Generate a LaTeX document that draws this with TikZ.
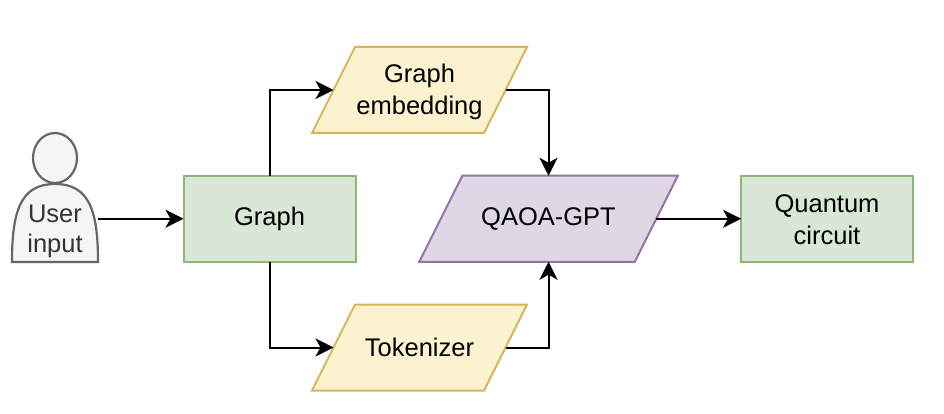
\documentclass[tikz,border=0pt]{standalone}
\usepackage{fontspec}
\setmainfont{Liberation Sans}
\usetikzlibrary{arrows.meta,calc,backgrounds}
\definecolor{gfill}{HTML}{D9E7D6}
\definecolor{gline}{HTML}{8DB873}
\definecolor{yfill}{HTML}{FDF2D0}
\definecolor{yline}{HTML}{D6B656}
\definecolor{pfill}{HTML}{DFD6E6}
\definecolor{pline}{HTML}{9673A6}
\definecolor{ufill}{HTML}{F5F5F5}
\definecolor{uline}{HTML}{666666}
\definecolor{utext}{HTML}{333333}
\tikzset{
  x=1pt,y=-1pt,
  label text/.style={font=\fontsize{25.5}{32}\selectfont,align=center,text=black,inner sep=0pt,outer sep=0pt},
  greenbox/.style={label text,draw=gline,fill=gfill,line width=2pt,minimum width=172pt,minimum height=86pt},
  parabox/.style={label text,minimum height=86pt},
  usertext/.style={label text,text=utext,minimum width=86pt,minimum height=65pt,font=\fontsize{25.5}{30}\selectfont},
  conn/.style={draw=black,line width=2pt,-{Stealth[length=18pt,width=18pt,inset=5pt]}},
  paraedge/.style={line width=2pt,line join=miter},
  actorline/.style={draw=uline,fill=ufill,line width=2.2pt}
}
\newcommand{\paraback}[3]{%
  \path[paraedge,draw=#2,fill=#3]
    ($(#1.north west)+(21.5,0)$) -- ($(#1.north east)+(21.5,0)$)
    -- ($(#1.south east)+(-21.5,0)$) -- ($(#1.south west)+(-21.5,0)$) -- cycle;}
\begin{document}
\begin{tikzpicture}
\useasboundingbox (0,0) rectangle (944,414);
% nodes
\node[usertext] (user) at (55,231) {User\\input};
\node[greenbox] (graph) at (269.5,218.75) {Graph};
\node[parabox,minimum width=172pt] (embed) at (419.5,90) {};
\node[label text] (embedtext) at (419.5,92) {Graph\\embedding};
\node[parabox,minimum width=172pt] (tok) at (419.5,347.5) {Tokenizer};
\node[parabox,minimum width=215.5pt] (qaoa) at (548.5,218.75) {QAOA-GPT};
\node[greenbox] (circuit) at (827,218.75) {};
\node[label text] (circuittext) at (827,219.75) {Quantum\\circuit};
% shapes behind the texts
\begin{pgfonlayer}{background}
  \path[actorline] (12,262) .. controls (12,212) and (20,184) .. (55,184)
    .. controls (90,184) and (98,212) .. (98,262) -- cycle;
  \path[actorline] (55,158) ellipse [x radius=22,y radius=25];
  \paraback{embed}{yline}{yfill}
  \paraback{tok}{yline}{yfill}
  \paraback{qaoa}{pline}{pfill}
\end{pgfonlayer}
% connectors
\draw[conn] (user.east |- graph.west) -- (graph.west);
\draw[conn] (graph.north) |- (embed.west);
\draw[conn] (graph.south) |- (tok.west);
\draw[conn] (embed.east) -| (qaoa.north);
\draw[conn] (tok.east) -| (qaoa.south);
\draw[conn] (qaoa.east) -- (circuit.west);
\end{tikzpicture}
\end{document}
